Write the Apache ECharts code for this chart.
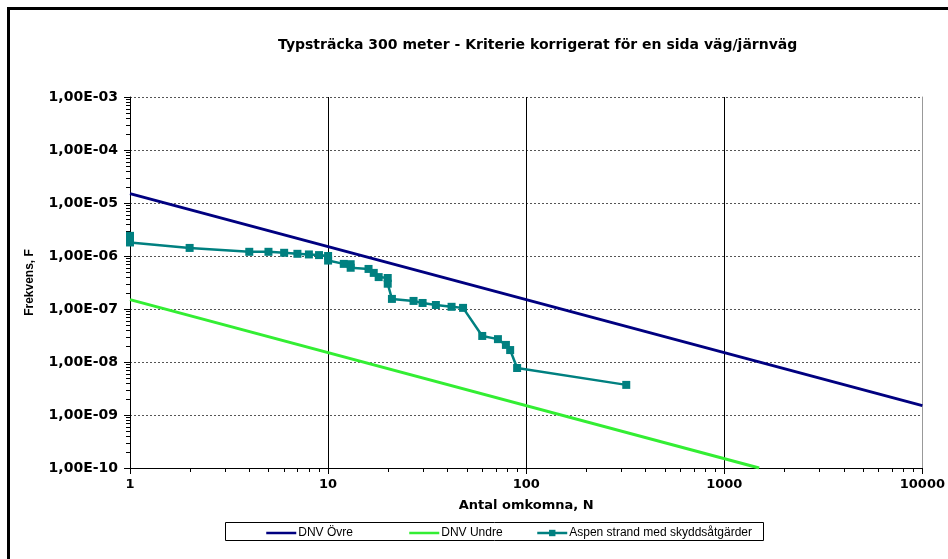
<!DOCTYPE html>
<html><head><meta charset="utf-8">
<script src="https://cdn.jsdelivr.net/npm/echarts@6/dist/echarts.min.js"></script>
<style>html,body{margin:0;padding:0;background:#fff}#c{width:948px;height:559px}</style>
</head><body><div id="c"></div>
<script>
const titleText = 'Typsträcka 300 meter - Kriterie korrigerat för en sida väg/järnväg';
const xName = 'Antal omkomna, N';
const yName = 'Frekvens, F';
const seriesNames = ['DNV Övre', 'DNV Undre', 'Aspen strand med skyddsåtgärder'];
const xTicks = [1, 10, 100, 1000, 10000];
const yTicks = [1e-10, 1e-9, 1e-8, 1e-7, 1e-6, 1e-5, 1e-4, 1e-3];
const dnvOvreN = [1, 10000];
const dnvOvreF = [1.5e-5, 1.5e-9];
const dnvUndreN = [1, 1500];
const dnvUndreF = [1.5e-7, 1e-10];
const aspenN = [1, 1, 1, 2, 4, 5, 6, 7, 8, 9, 10, 10, 12, 13, 13, 16, 17, 18, 20, 20, 21, 27, 30, 35, 42, 48, 60, 72, 79, 83, 90, 320];
const aspenF = [2.4e-6, 2.1e-6, 1.8e-6, 1.42e-6, 1.2e-6, 1.2e-6, 1.15e-6, 1.1e-6, 1.07e-6, 1.04e-6, 1.0e-6, 8.2e-7, 7.1e-7, 7.0e-7, 6.0e-7, 5.7e-7, 4.8e-7, 4.0e-7, 3.85e-7, 3.0e-7, 1.55e-7, 1.42e-7, 1.3e-7, 1.19e-7, 1.1e-7, 1.05e-7, 3.1e-8, 2.7e-8, 2.1e-8, 1.68e-8, 7.7e-9, 3.7e-9];

// minor tick positions (axis decoration): 2..9 within each decade
const xMinor = [];
for (let d = 0; d < xTicks.length - 1; d++) for (let m = 2; m <= 9; m++) xMinor.push(m * xTicks[d]);
const yMinor = [];
for (let d = 0; d < yTicks.length - 1; d++) for (let m = 2; m <= 9; m++) yMinor.push(m * yTicks[d]);

const XMIN = xTicks[0], XMAX = xTicks[xTicks.length - 1];
const YMIN = yTicks[0], YMAX = yTicks[yTicks.length - 1];
const wide = '"DejaVu Sans", Verdana, sans-serif';
const font = '"Liberation Sans", Arial, sans-serif';

function zip(a, b) { return a.map((v, i) => [v, b[i]]); }
function fmtY(v) {
  const e = Math.round(Math.log10(v));
  const s = e < 0 ? '-' : '+';
  return '1,00E' + s + String(Math.abs(e)).padStart(2, '0');
}
const hidden = { color: 'rgba(0,0,0,0)', borderColor: 'rgba(0,0,0,0)', borderWidth: 0, opacity: 0 };
const legendBase = { top: 527, padding: 0, itemWidth: 30, itemHeight: 8, z: 5, textStyle: { fontFamily: font, fontSize: 12, color: '#000', padding: [0, 0, 0, -3] } };

const chart = echarts.init(document.getElementById('c'), null, { renderer: 'canvas' });
chart.setOption({
  animation: false,
  backgroundColor: '#fff',
  title: {
    text: titleText, left: 273, top: 33,
    textStyle: { fontFamily: wide, fontSize: 14, fontWeight: 'bold', color: '#000' }
  },
  graphic: [
    { type: 'rect', z: -10, shape: { x: 8.5, y: 8.5, width: 1000, height: 1000 }, style: { fill: null, stroke: '#000', lineWidth: 3 } },
    { type: 'rect', z: 0, shape: { x: 225.5, y: 522.5, width: 538, height: 18 }, style: { fill: '#fff', stroke: '#000', lineWidth: 1 } }
  ],
  legend: [
    Object.assign({}, legendBase, { left: 265, lineStyle: { width: 2.5 }, data: [{ name: seriesNames[0], itemStyle: hidden }] }),
    Object.assign({}, legendBase, { left: 408, lineStyle: { width: 2.5 }, data: [{ name: seriesNames[1], itemStyle: hidden }] }),
    Object.assign({}, legendBase, { left: 536, lineStyle: { width: 2.5 }, data: [seriesNames[2]] })
  ],
  grid: { left: 130, top: 97, width: 795, height: 371 },
  xAxis: {
    type: 'log', logBase: 10, min: XMIN, max: XMAX,
    name: xName, nameLocation: 'middle', nameGap: 31,
    nameTextStyle: { fontFamily: wide, fontSize: 13, fontWeight: 'bold', color: '#000' },
    axisLine: { show: true, lineStyle: { color: '#000', width: 1 } },
    axisTick: { show: true, length: 6, lineStyle: { color: '#000' } },
    axisLabel: { fontFamily: wide, fontSize: 13, fontWeight: 'bold', color: '#000', margin: 10, formatter: v => String(v) },
    splitLine: { show: true, lineStyle: { color: ['#000', '#000', '#000', '#000', '#999'], width: 1 } }
  },
  yAxis: [{
    type: 'log', logBase: 10, min: YMIN, max: YMAX,
    name: yName, nameLocation: 'middle', nameGap: 94, nameRotate: 90,
    nameTextStyle: { fontFamily: font, fontSize: 12, fontWeight: 'bold', color: '#000' },
    axisLine: { show: true, lineStyle: { color: '#000', width: 1 } },
    axisTick: { show: true, length: 6, lineStyle: { color: '#000' } },
    axisLabel: { fontFamily: wide, fontSize: 14, fontWeight: 'bold', color: '#000', margin: 12, formatter: fmtY },
    splitLine: { show: true, lineStyle: { color: '#555', width: 1, type: [2, 2] } }
  }, {
    type: 'log', logBase: 10, min: YMIN, max: YMAX, position: 'right',
    axisLine: { show: true, lineStyle: { color: '#999', width: 1 } },
    axisTick: { show: false }, axisLabel: { show: false }, splitLine: { show: false }
  }],
  series: [
    {
      name: seriesNames[0], type: 'line', data: zip(dnvOvreN, dnvOvreF), symbol: 'none', z: 3,
      lineStyle: { color: '#000080', width: 3 }, itemStyle: { color: '#000080' }
    },
    {
      name: seriesNames[1], type: 'line', data: zip(dnvUndreN, dnvUndreF), symbol: 'none', z: 3,
      lineStyle: { color: '#33ee33', width: 3 }, itemStyle: { color: '#33ee33' }
    },
    {
      name: seriesNames[2], type: 'line', data: zip(aspenN, aspenF), symbol: 'rect', symbolSize: 8, showSymbol: true, z: 4,
      lineStyle: { color: '#008080', width: 2.5 }, itemStyle: { color: '#008080' }
    },
    {
      name: 'xminor', type: 'custom', clip: false, silent: true, data: xMinor.map(v => [v, YMIN]),
      renderItem: (params, api) => {
        const p = api.coord([api.value(0), api.value(1)]);
        return { type: 'line', shape: { x1: Math.round(p[0]) + 0.5, y1: p[1], x2: Math.round(p[0]) + 0.5, y2: p[1] + 4 }, style: { stroke: '#000', lineWidth: 1 } };
      }
    },
    {
      name: 'yminor', type: 'custom', clip: false, silent: true, data: yMinor.map(v => [XMIN, v]),
      renderItem: (params, api) => {
        const p = api.coord([api.value(0), api.value(1)]);
        return { type: 'line', shape: { x1: p[0], y1: Math.round(p[1]) + 0.5, x2: p[0] - 4, y2: Math.round(p[1]) + 0.5 }, style: { stroke: '#000', lineWidth: 1 } };
      }
    }
  ]
});
</script>
</body></html>
